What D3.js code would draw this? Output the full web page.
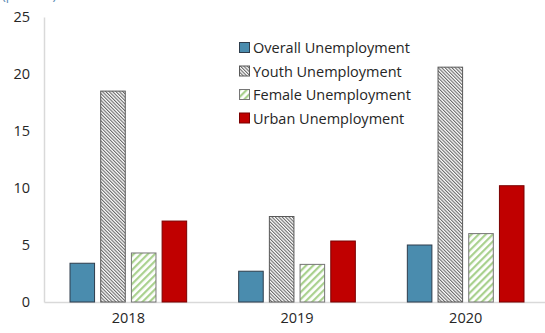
<!DOCTYPE html>
<html>
<head>
<meta charset="utf-8">
<script src="https://cdn.jsdelivr.net/npm/d3@7"></script>
<style>
  body { margin: 0; background: #fff; }
  text { font-family: "Open Sans", "DejaVu Sans", sans-serif; fill: #262626; }
</style>
</head>
<body>
<div id="my_graphic"></div>
<script>
var years = ['2018', '2019', '2020'];
var series = ['Overall Unemployment', 'Youth Unemployment', 'Female Unemployment', 'Urban Unemployment'];
var overall = [3.4, 2.7, 5.0];
var youth = [18.5, 7.5, 20.6];
var female = [4.3, 3.3, 6.0];
var urban = [7.1, 5.35, 10.2];
var y_ticks = [0, 5, 10, 15, 20, 25];

draw_plot();

function draw_plot() {
    // set the dimensions and margins of the graph
    const margin = {top: 17, right: -5, bottom: 31, left: 44},
        width = 545 - margin.left - margin.right,
        height = 333 - margin.top - margin.bottom;

    const root = d3.select("#my_graphic")
        .append("svg")
        .attr("width", 545)
        .attr("height", 333);

    // patterns for the hatched bars
    const defs = root.append("defs");
    const pY = defs.append("pattern")
        .attr("id", "pat-youth")
        .attr("patternUnits", "userSpaceOnUse")
        .attr("width", 2.4).attr("height", 2.4)
        .attr("patternTransform", "rotate(-45)");
    pY.append("rect").attr("width", 2.4).attr("height", 2.4).attr("fill", "#ffffff");
    pY.append("rect").attr("width", 1.1).attr("height", 2.4).attr("fill", "#6a6a6a");

    const pF = defs.append("pattern")
        .attr("id", "pat-female")
        .attr("patternUnits", "userSpaceOnUse")
        .attr("width", 5).attr("height", 5)
        .attr("patternTransform", "rotate(45)");
    pF.append("rect").attr("width", 5).attr("height", 5).attr("fill", "#ffffff");
    pF.append("rect").attr("width", 2.2).attr("height", 5).attr("fill", "#a9d18e");

    // cut-off unit label at the very top
    root.append("text")
        .attr("x", 2).attr("y", -0.5)
        .style("font-size", "13px")
        .style("fill", "#5b8bb5")
        .text("(percent)");

    const svg = root.append("g")
        .attr("transform", `translate(${margin.left},${margin.top})`);

    // X axis
    const x = d3.scaleBand()
        .domain(years)
        .range([0, width]);

    const xs = d3.scaleBand()
        .domain(series)
        .range([26, x.bandwidth() - 26])
        .paddingInner(0.2);

    // Y axis
    const y = d3.scaleLinear()
        .domain([0, 25])
        .range([height, 0]);

    svg.append("g")
        .call(d3.axisLeft(y).tickValues(y_ticks).tickSize(0).tickPadding(14))
        .call(g => g.select(".domain").attr("stroke", "#d9d9d9").attr("stroke-width", 1.5))
        .call(g => g.selectAll(".tick text").style("font-size", "14.5px").style("fill", "#262626"));

    svg.append("g")
        .attr("transform", `translate(0, ${height})`)
        .call(d3.axisBottom(x).tickSize(0).tickPadding(11).tickSizeOuter(0))
        .call(g => g.select(".domain").attr("stroke", "#d9d9d9").attr("stroke-width", 1.5))
        .call(g => g.selectAll(".tick text").style("font-size", "14.5px").style("fill", "#262626"));

    const values = [overall, youth, female, urban];
    const fills = ["#4a8cae", "url(#pat-youth)", "url(#pat-female)", "#c00000"];
    const strokes = ["#2e3d4c", "#595959", "#767676", "#7a0000"];

    const rows = [];
    years.forEach(function(yr, i) {
        series.forEach(function(s, j) {
            rows.push({year: yr, key: s, idx: j, value: values[j][i]});
        });
    });

    svg.append("g")
        .selectAll("rect")
        .data(rows)
        .join("rect")
        .attr("x", d => x(d.year) + xs(d.key))
        .attr("y", d => y(d.value))
        .attr("width", xs.bandwidth())
        .attr("height", d => y(0) - y(d.value))
        .attr("fill", d => fills[d.idx])
        .attr("stroke", d => strokes[d.idx])
        .attr("stroke-width", 1);

    // Draw legend
    var legend = root.selectAll(".legend")
        .data(series)
        .join("g")
        .attr("class", "legend")
        .attr("transform", function(d, i) { return "translate(239," + (42 + i * 23.5) + ")"; });

    legend.append("rect")
        .attr("x", 0.5)
        .attr("y", 0.5)
        .attr("width", 10)
        .attr("height", 10)
        .attr("fill", (d, i) => fills[i])
        .attr("stroke", (d, i) => strokes[i]);

    legend.append("text")
        .attr("x", 14)
        .attr("y", 6)
        .attr("dy", ".36em")
        .style("font-size", "14.5px")
        .style("text-anchor", "start")
        .text(d => d);
}
</script>
</body>
</html>
